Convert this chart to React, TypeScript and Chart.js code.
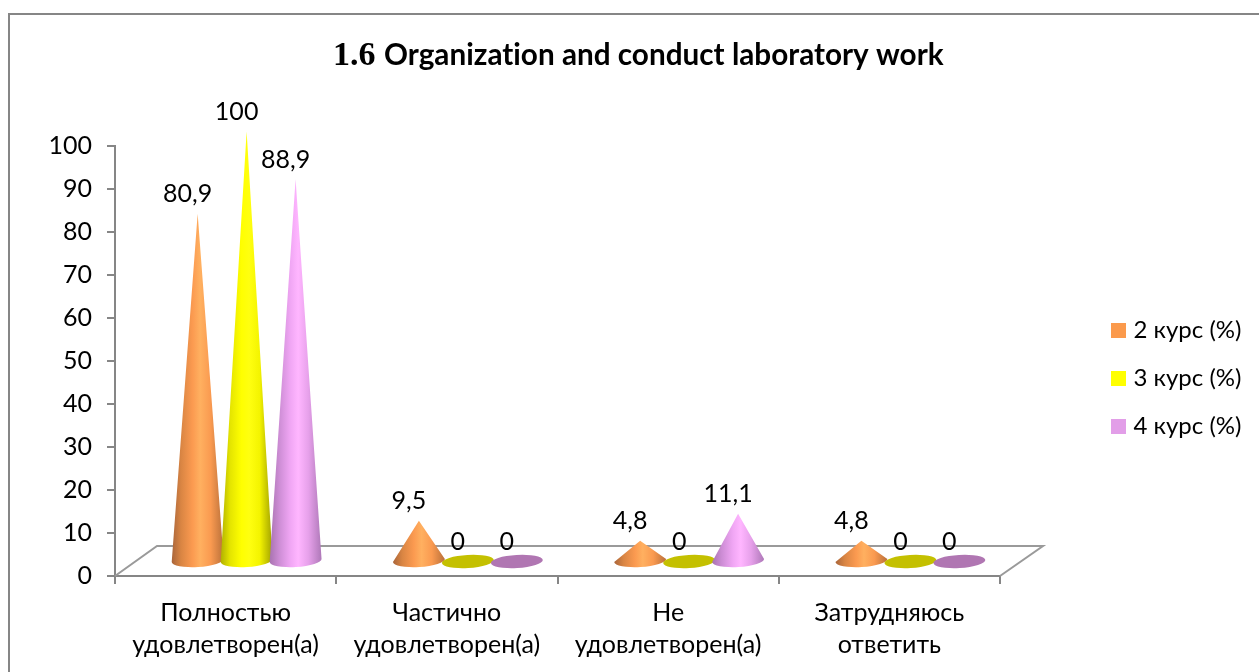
import React, { useEffect, useRef } from "react";
import { Chart, registerables } from "chart.js";

Chart.register(...registerables);

const categories = [
  ["Полностью", "удовлетворен(а)"],
  ["Частично", "удовлетворен(а)"],
  ["Не", "удовлетворен(а)"],
  ["Затрудняюсь", "ответить"],
];
const course2 = [80.9, 9.5, 4.8, 4.8];
const course3 = [100, 0, 0, 0];
const course4 = [88.9, 0, 11.1, 0];
const seriesNames = ["2 курс (%)", "3 курс (%)", "4 курс (%)"];
const swatchColors = ["#FB9A4C", "#FFFF00", "#E29EE8"];
const flatColors = ["#C97A3A", "#C4C000", "#B076B2"];
const coneStops = [
  ["#A9653A", "#D98543", "#FB9A50", "#FFB060", "#FA9A50", "#B9703A"],
  ["#B0B000", "#E4E400", "#FFFF00", "#FFFF10", "#F4F400", "#A0A000"],
  ["#A873B0", "#CC8CD4", "#F0A6F4", "#FFB6FF", "#E6A0EA", "#AE78B8"],
];
const titleSerif = "1.6";
const titleSans = "Organization and conduct laboratory work";

const FONT = "Lato, 'Noto Sans', sans-serif";
const TEXT_SIZE = 25;
const LEGEND_SIZE = 24;
const GREY = "#868686";
const DEPTH_X = 21;
const DEPTH_Y = 14.5;
const RX = 26;
const RY = 6.5;
const TILT = -0.06;

function drawCone(ctx: any, cx: number, baseY: number, tipY: number, series: number) {
  ctx.save();
  if (baseY - tipY < 1) {
    ctx.beginPath();
    ctx.ellipse(cx, baseY, RX, RY, TILT, 0, Math.PI * 2);
    ctx.fillStyle = flatColors[series];
    ctx.fill();
    ctx.restore();
    return;
  }
  const g = ctx.createLinearGradient(cx - RX, 0, cx + RX, 0);
  coneStops[series].forEach((c: string, i: number) => g.addColorStop([0, 0.18, 0.4, 0.55, 0.75, 1][i], c));
  ctx.beginPath();
  ctx.moveTo(cx, tipY);
  const cosT = Math.cos(TILT);
  const sinT = Math.sin(TILT);
  ctx.lineTo(cx + RX * cosT, baseY + RX * sinT);
  ctx.ellipse(cx, baseY, RX, RY, TILT, 0, Math.PI);
  ctx.closePath();
  ctx.fillStyle = g;
  ctx.fill();
  ctx.restore();
}

function swatch(color: string) {
  const c = document.createElement("canvas");
  c.width = 15;
  c.height = 15;
  const x = c.getContext("2d") as CanvasRenderingContext2D;
  x.fillStyle = color;
  x.fillRect(0, 0, 15, 15);
  return c;
}

const chromePlugin = {
  id: "chrome",
  beforeLayout(chart: any) {
    const legend = chart.legend;
    if (legend && !legend.__patched) {
      const fit = legend.fit.bind(legend);
      legend.fit = () => {
        fit();
        legend.width = 259;
      };
      legend.__patched = true;
    }
  },
  afterLayout(chart: any) {
    const legend = chart.legend;
    const pad = legend.options.labels.padding;
    legend.left = 1115.5 - pad;
    legend.right = 1259;
    legend.top = 330.5 - LEGEND_SIZE / 2 - pad;
    legend.bottom = 672;
  },
  beforeDraw(chart: any) {
    const { ctx, width, height } = chart;
    ctx.save();
    ctx.fillStyle = "#FFFFFF";
    ctx.fillRect(0, 0, width, height);
    ctx.strokeStyle = GREY;
    ctx.lineWidth = 2;
    ctx.beginPath();
    ctx.moveTo(9, height);
    ctx.lineTo(9, 14);
    ctx.lineTo(width, 14);
    ctx.stroke();
    // title, in two faces
    ctx.fillStyle = "#000000";
    ctx.textBaseline = "alphabetic";
    ctx.textAlign = "left";
    ctx.font = "bold 34px 'Liberation Serif', serif";
    ctx.fillText(titleSerif, 333, 65);
    ctx.letterSpacing = "0.01px";
    ctx.font = `bold 29.7px ${FONT}`;
    ctx.fillText(titleSans, 384, 65);
    ctx.letterSpacing = "0px";
    ctx.restore();
  },
  beforeDatasetsDraw(chart: any) {
    const { ctx, scales } = chart;
    const l = scales.x.left;
    const r = scales.x.right;
    const b = scales.y.getPixelForValue(0);
    ctx.save();
    ctx.strokeStyle = "#9A9A9A";
    ctx.lineWidth = 2;
    ctx.beginPath();
    ctx.moveTo(l, b);
    ctx.lineTo(l + 42, b - 30);
    ctx.lineTo(r + 43, b - 30);
    ctx.lineTo(r, b);
    ctx.stroke();
    ctx.restore();
  },
  afterDatasetsDraw(chart: any) {
    const { ctx } = chart;
    chart.data.datasets.forEach((ds: any, i: number) => {
      chart.getDatasetMeta(i).data.forEach((bar: any) => {
        drawCone(ctx, bar.x + DEPTH_X, bar.base - DEPTH_Y, bar.y - DEPTH_Y, i);
      });
    });
    ctx.save();
    ctx.fillStyle = "#000000";
    ctx.font = `${TEXT_SIZE}px ${FONT}`;
    ctx.textAlign = "center";
    ctx.textBaseline = "middle";
    chart.data.datasets.forEach((ds: any, i: number) => {
      chart.getDatasetMeta(i).data.forEach((bar: any, j: number) => {
        const text = String(ds.data[j]).replace(".", ",");
        ctx.fillText(text, bar.x + 11, bar.y - 34);
      });
    });
    ctx.restore();
  },
};

export default function App() {
  const ref = useRef<HTMLCanvasElement | null>(null);
  useEffect(() => {
    const chart = new Chart(ref.current as any, {
      type: "bar",
      data: {
        labels: categories as any,
        datasets: [course2, course3, course4].map((data, i) => ({
          label: seriesNames[i],
          data,
          backgroundColor: "rgba(0,0,0,0)",
          borderWidth: 0,
          categoryPercentage: 0.664,
          barPercentage: 1,
        })),
      },
      options: {
        responsive: false,
        animation: false,
        layout: { padding: { top: 146, left: 0, right: 0, bottom: 12 } },
        plugins: {
          tooltip: { enabled: false },
          title: { display: false },
          legend: {
            display: true,
            position: "right",
            align: "start",
            labels: {
              usePointStyle: true,
              pointStyleWidth: 6,
              boxWidth: 15,
              boxHeight: 15,
              padding: 48 - LEGEND_SIZE,
              color: "#000000",
              font: { family: FONT, size: LEGEND_SIZE },
              generateLabels: () =>
                seriesNames.map((text, i) => ({
                  text,
                  fillStyle: swatchColors[i],
                  strokeStyle: swatchColors[i],
                  pointStyle: swatch(swatchColors[i]),
                  lineWidth: 0,
                  hidden: false,
                  datasetIndex: i,
                })),
            },
          },
        },
        scales: {
          x: {
            border: { color: GREY, width: 2 },
            grid: { drawOnChartArea: false, drawTicks: true, tickLength: 8, color: GREY, lineWidth: 2 },
            ticks: {
              autoSkip: false,
              maxRotation: 0,
              minRotation: 0,
              padding: 13,
              color: "#000000",
              font: { family: FONT, size: TEXT_SIZE, lineHeight: 32 / TEXT_SIZE },
            },
            afterFit: (s: any) => {
              s.height = 84;
            },
          },
          y: {
            min: 0,
            max: 100,
            border: { color: GREY, width: 2 },
            grid: { drawOnChartArea: false, drawTicks: true, tickLength: 8, color: GREY, lineWidth: 2 },
            ticks: {
              stepSize: 10,
              padding: 15,
              color: "#000000",
              font: { family: FONT, size: TEXT_SIZE },
            },
            afterFit: (s: any) => {
              s.width = 115;
            },
          },
        },
      },
      plugins: [chromePlugin],
    } as any);
    return () => chart.destroy();
  }, []);
  return (
    <canvas
      ref={ref}
      width={1259}
      height={672}
      style={{ position: "fixed", left: 0, top: 0, display: "block" }}
    />
  );
}
